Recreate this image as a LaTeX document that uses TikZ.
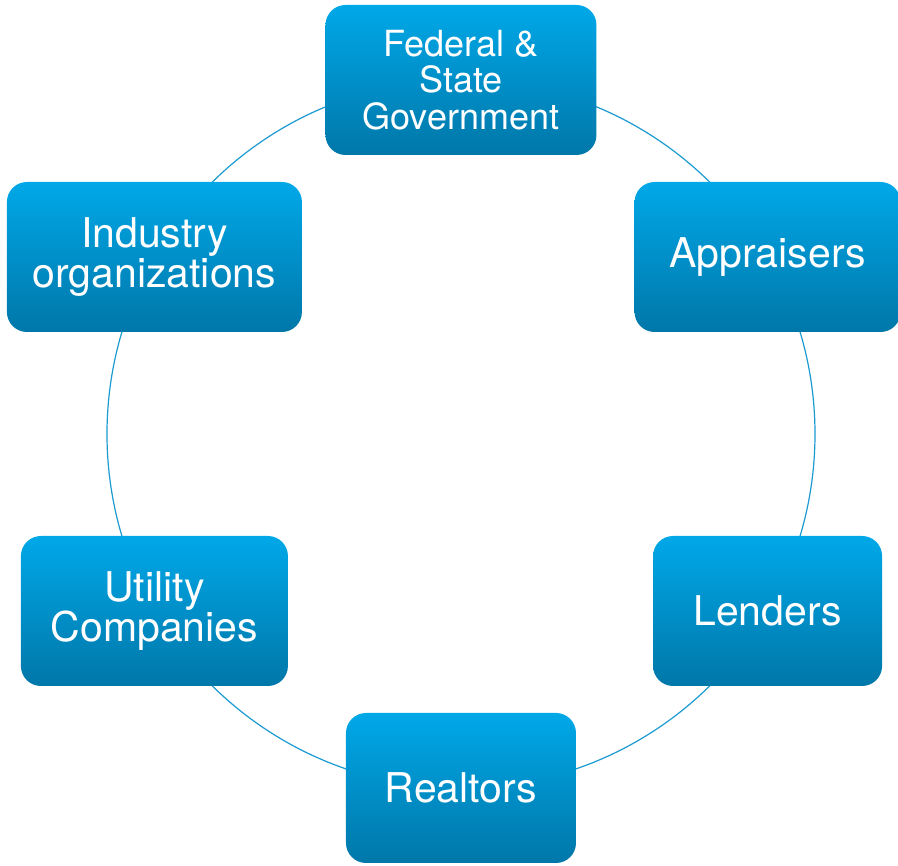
\documentclass[tikz,border=0pt]{standalone}
\usepackage{fontspec}
\setmainfont{TeX Gyre Heros}
\usepackage{xcolor}
\usetikzlibrary{positioning,shapes}
\definecolor{boxtop}{HTML}{00A8E8}
\definecolor{boxbottom}{HTML}{0077A9}
\definecolor{ringline}{HTML}{1A9AD0}
\tikzset{%
	party/.style = {rectangle, rounded corners=20pt, top color=boxtop, bottom color=boxbottom, text=white, align=center, minimum height=150pt, font=\fontsize{41}{40}\selectfont},
	ring/.style  = {draw=ringline, line width=1.2pt},
}

\begin{document}
\begin{tikzpicture}[x=1pt,y=1pt]
	\useasboundingbox (-461,-432) rectangle (437,434);
	\coordinate (hub) at (0,0);
	\draw[ring] (hub) circle (354);  % ring behind the boxes
	
	\node[party, minimum width=271pt, font=\fontsize{36}{36.5}\selectfont] (gov) at (90:354) {Federal \&\\State\\Government};
	\node[party, minimum width=266pt] (appr) at (30:354) {Appraisers};
	\node[party, minimum width=229pt] (lend) at (-30:354) {Lenders};
	\node[party, minimum width=230pt] (real) at (-90:354) {Realtors};
	\node[party, minimum width=267pt] (util) at (-150:354) {Utility\\Companies};
	\node[party, minimum width=295pt] (indu) at (150:354) {Industry\\organizations};
	
\end{tikzpicture}
\end{document}
